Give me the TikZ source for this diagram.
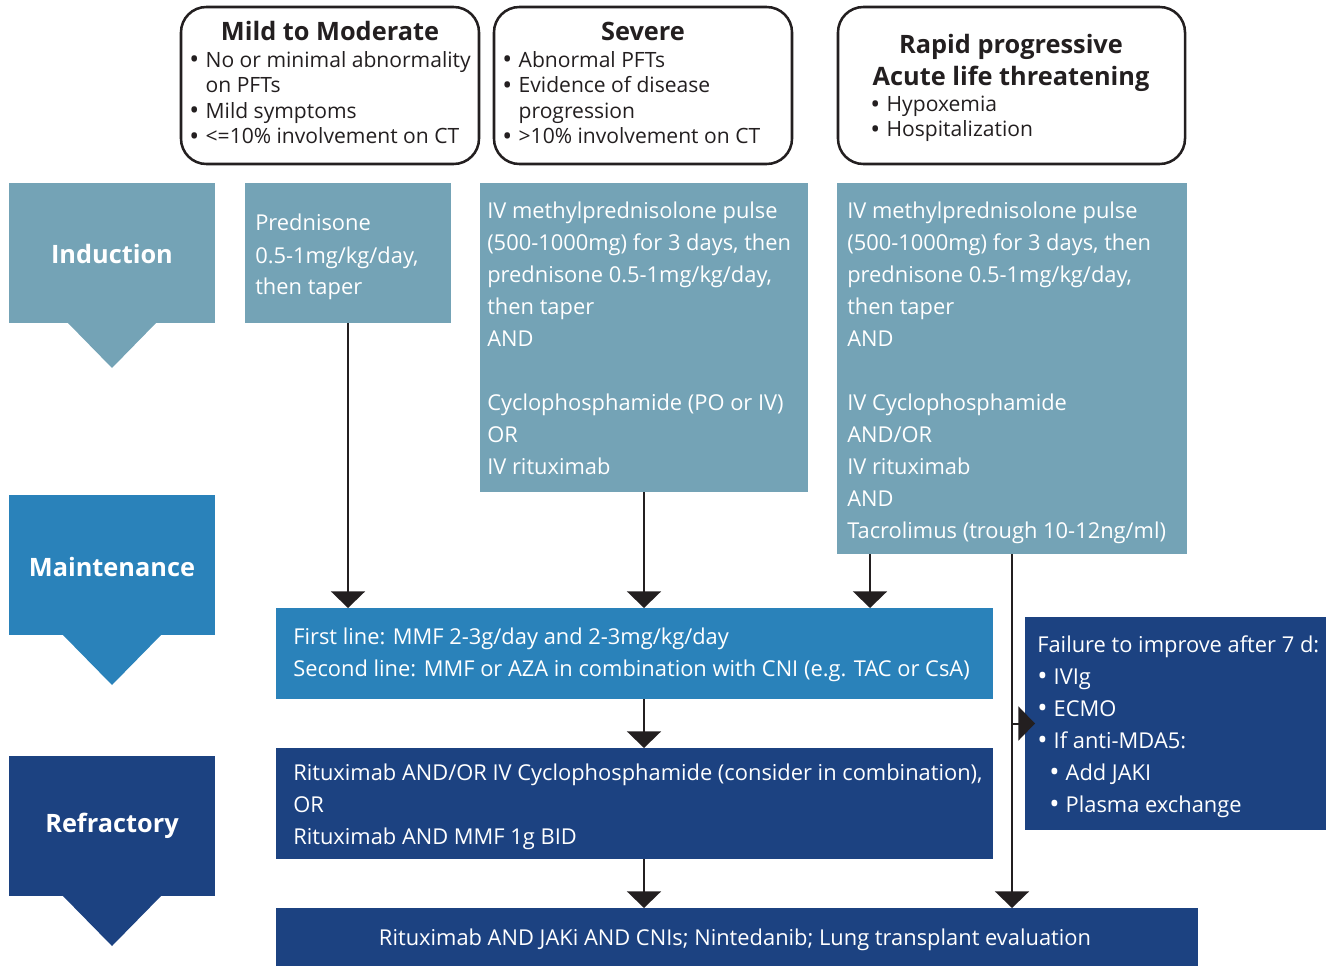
\documentclass[tikz,border=0pt]{standalone}
\usepackage{fontspec}
\usepackage{graphicx}
\setmainfont{Open Sans}
\usetikzlibrary{arrows.meta,calc,fit}
\definecolor{cLight}{HTML}{74A3B6}
\definecolor{cMid}{HTML}{2A82BA}
\definecolor{cDark}{HTML}{1C4281}
\definecolor{cInk}{HTML}{231F20}
\newcommand\bul{\makebox[12.3pt][l]{\raisebox{-0.09em}{\scalebox{1.25}{\textbullet}}}}
\newcommand\hang{\hspace*{12.3pt}}
\begin{document}
\begin{tikzpicture}[x=0.75pt,y=-0.75pt,
  box/.style={inner sep=0pt, outer sep=0pt, draw=none},
  lightbox/.style={box, fill=cLight},
  midbox/.style={box, fill=cMid},
  darkbox/.style={box, fill=cDark},
  stagelbl/.style={inner sep=0pt, anchor=center, text=white, font=\fontsize{19}{23}\selectfont\bfseries},
  catbox/.style={draw=cInk, line width=1.9pt, rounded corners=19pt, fill=white, inner sep=0pt},
  cattitle/.style={inner sep=0pt, anchor=base, align=center, text=cInk, font=\fontsize{19}{24}\selectfont\bfseries},
  catlist/.style={inner sep=0pt, anchor=base west, align=left, text=cInk, font=\fontsize{15.8}{19.1}\selectfont},
  txt/.style={inner sep=0pt, anchor=base west, align=left, text=white, font=\fontsize{16.4}{24}\selectfont},
  flow/.style={draw=cInk, line width=1.5pt, -{Triangle[width=25.5pt,length=12.5pt]}}
]
\useasboundingbox (0,0) rectangle (1327,966);

% stage labels
\node[lightbox, fit={(9,183)(215,323)}] (ind) {};
\fill[cLight] (67,322) -- (112,368) -- (157,322) -- cycle;
\node[stagelbl] (indL) at (112,254) {Induction};
\node[midbox, fit={(9,495)(215,635)}] (mnt) {};
\fill[cMid] (62,634) -- (112,685) -- (162,634) -- cycle;
\node[stagelbl] (mntL) at (112,567) {Maintenance};
\node[darkbox, fit={(9,756)(215,896)}] (ref) {};
\fill[cDark] (62,895) -- (112,946) -- (162,895) -- cycle;
\node[stagelbl] (refL) at (112,826) {Refractory};

% category boxes (multi-line nodes are placed by the baseline of their last line)
\node[catbox, fit={(181,7)(479,164)}] (mild) {};
\node[cattitle] (mildT) at (330,41) {Mild to Moderate};
\node[catlist] (mildL) at (189,143.5) {\bul No or minimal abnormality\\\hang on PFTs\\\bul Mild symptoms\\\bul <=10\% involvement on CT};

\node[catbox, fit={(494,7)(792,164)}] (sevc) {};
\node[cattitle] (sevT) at (643,41) {Severe};
\node[catlist] (sevL) at (502,143.5) {\bul Abnormal PFTs\\\bul Evidence of disease\\\hang progression\\\bul >10\% involvement on CT};

\node[catbox, fit={(838,7)(1185,164)}] (rapc) {};
\node[cattitle] (rapT) at (1011,85.5) {Rapid progressive\\Acute life threatening};
\node[catlist] (rapL) at (870,137) {\bul Hypoxemia\\\bul Hospitalization};

% induction boxes
\node[lightbox, fit={(245,183)(451,323)}] (pred) {};
\node[txt] (predT) at (255,295) {Prednisone\\0.5-1mg/kg/day,\\then taper};

\node[lightbox, fit={(480,183)(808,492)}] (sev) {};
\node[txt] (sevTx) at (487,474) {IV methylprednisolone pulse\\(500-1000mg) for 3 days, then\\prednisone 0.5-1mg/kg/day,\\then taper\\AND\\ ~\\Cyclophosphamide (PO or IV)\\OR\\IV rituximab};

\node[lightbox, fit={(837,183)(1187,554)}] (rap) {};
\node[txt] (rapTx) at (847,538) {IV methylprednisolone pulse\\(500-1000mg) for 3 days, then\\prednisone 0.5-1mg/kg/day,\\then taper\\AND\\ ~\\IV Cyclophosphamide\\AND/OR\\IV rituximab\\AND\\Tacrolimus (trough 10-12ng/ml)};

% maintenance / refractory / final
\node[midbox, fit={(276,608)(993,699)}] (maint) {};
\node[txt] (maintT) at (293,676) {First line: MMF 2-3g/day and 2-3mg/kg/day\\Second line: MMF or AZA in combination with CNI (e.g. TAC or CsA)};

\node[darkbox, fit={(276,748)(993,859)}] (refr) {};
\node[txt] (refrT) at (293,844) {Rituximab AND/OR IV Cyclophosphamide (consider in combination),\\OR\\Rituximab AND MMF 1g BID};

\node[darkbox, fit={(276,908)(1198,966)}] (final) {};
\node[txt, anchor=base] (finalT) at (735,945) {Rituximab AND JAKi AND CNIs; Nintedanib; Lung transplant evaluation};

\node[darkbox, fit={(1025,617)(1326,830)}] (fail) {};
\node[txt] (failT) at (1037,812) {Failure to improve after 7 d:\\\bul IVIg\\\bul ECMO\\\bul If anti-MDA5:\\\hspace*{9pt}\bul Add JAKI\\\hspace*{9pt}\bul Plasma exchange};

% connectors
\coordinate (rapA) at ($(rap.south west)+(33,0)$);
\coordinate (failIn) at ($(fail.west)+(10,0)$);
\draw[flow] (pred.south) -- (pred.south |- maint.north);
\draw[flow] (sev.south) -- (sev.south |- maint.north);
\draw[flow] (rapA) -- (rapA |- maint.north);
\draw[flow] (sev.south |- maint.south) -- (sev.south |- refr.north);
\draw[flow] (sev.south |- refr.south) -- (sev.south |- final.north);
\draw[flow] (rap.south) -- (rap.south |- final.north);
\draw[flow] (rap.south |- fail.west) -- (failIn);
\end{tikzpicture}
\end{document}
